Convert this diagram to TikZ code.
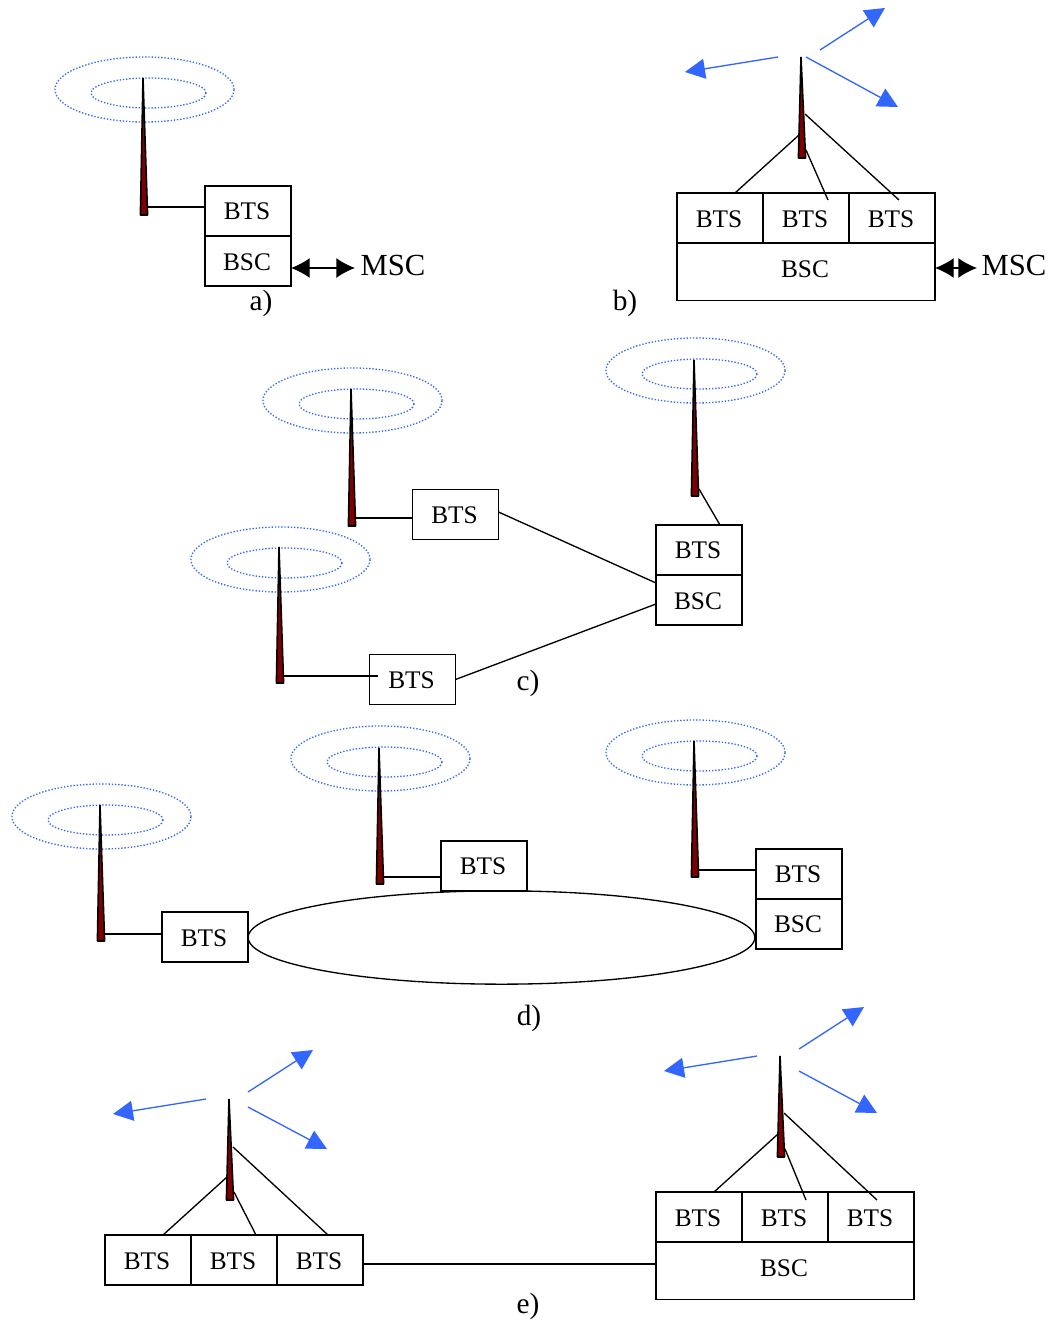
\documentclass[tikz,border=0pt]{standalone}
\usepackage{fontspec}
\setmainfont{Liberation Serif}
\usepackage{xcolor}
\usepackage{tikz}
\usetikzlibrary{arrows.meta, calc, shapes.geometric}
\definecolor{mymast}{RGB}{128,0,0}
\definecolor{myblue}{RGB}{51,102,255}
\tikzset{
  unitbox/.style={rectangle, draw=black, fill=white, line width=1pt, inner sep=0pt, outer sep=0pt,
    minimum width=64.5pt, minimum height=37.5pt, font=\fontsize{19}{21}\selectfont,
    execute at end node=\kern1.5pt},
  lowtext/.style={text height=14pt},
  widebox/.style={unitbox, minimum width=193.5pt, minimum height=43pt, text depth=3.8pt},
  caption/.style={font=\fontsize{22}{24}\selectfont, inner sep=0pt},
  msclabel/.style={font=\fontsize{23}{25}\selectfont, inner sep=0pt},
  link/.style={line width=1pt, color=black},
  mscarrow/.style={line width=1pt, {Latex[length=14pt,width=15pt]}-{Latex[length=14pt,width=15pt]}},
  ringline/.style={color=myblue, line width=1pt, dash pattern=on 1pt off 1.4pt},
  beam/.style={color=myblue, line width=1pt, -{Triangle[length=15pt,width=15pt]}},
  pics/mast/.style={code={
    \draw[fill=mymast, line width=1.2pt, line join=bevel] (0,0) -- (4.6,#1) -- (-2.6,#1) -- cycle;
  }},
  pics/rings/.style={code={
    \draw[ringline] (1.5,11.5) ellipse (89.5 and 32.5);
    \draw[ringline] (5.5,15) ellipse (57.5 and 15);
  }},
  pics/beams/.style={code={
    \draw[beam] (-23,0) -- (-116,15);
    \draw[beam] (19,-7) -- (84,-49);
    \draw[beam] #1;
  }}
}
\begin{document}
\begin{tikzpicture}[x=0.75pt, y=-0.75pt]
  \useasboundingbox (0,0) rectangle (1051,1321);

  % a)
  \pic at (143,78) {rings};
  \pic at (143,78) {mast=137};
  \node[unitbox] (btsa) at (248,211) {BTS};
  \node[unitbox, lowtext] (bsca) at (248,261) {BSC};
  \node[msclabel] (msca) at (393,265) {MSC};
  \node[caption] (capa) at (261,303) {a)};
  \coordinate (tapa) at (148,207);
  \coordinate (msctipa) at (355,268);
  \draw[link] (tapa) -- (tapa -| btsa.west);
  \draw[mscarrow] (msctipa -| bsca.east) -- (msctipa);

  % b)
  \pic at (801,57) {beams={(5,0) -- (97,50)}};
  \pic at (801,57) {mast=101};
  \node[unitbox, lowtext] (btsba) at (720,218) {BTS};
  \node[unitbox, lowtext] (btsbb) at (806,218) {BTS};
  \node[unitbox, lowtext] (btsbc) at (892,218) {BTS};
  \node[widebox] (bscb) at (806,271.5) {BSC};
  \node[msclabel] (mscb) at (1014,265) {MSC};
  \node[caption] (capb) at (625,303) {b)};
  \coordinate (tapbl) at (799,135);
  \coordinate (tapbm) at (806,150);
  \coordinate (tapbr) at (805,114);
  \coordinate (endbl) at (735,193);
  \coordinate (endbm) at (828,200);
  \coordinate (endbr) at (899,200);
  \coordinate (msctipb) at (977,268);
  \draw[link] (tapbl) -- (endbl);
  \draw[link] (tapbm) -- (endbm);
  \draw[link] (tapbr) -- (endbr);
  \draw[mscarrow] (msctipb -| bscb.east) -- (msctipb);

  % c)
  \pic at (351,389) {rings};
  \pic at (351,389) {mast=137};
  \pic at (279,548) {rings};
  \pic at (279,547) {mast=136};
  \pic at (694,359) {rings};
  \pic at (694,360) {mast=136};
  \node[unitbox, lowtext] (btsca) at (455.5,514.5) {BTS};
  \node[unitbox, lowtext] (btscb) at (412.5,679.5) {BTS};
  \node[unitbox] (btscc) at (699,550) {BTS};
  \node[unitbox, lowtext] (bscc) at (699,600) {BSC};
  \node[caption] (capc) at (528,683) {c)};
  \coordinate (tapca) at (355,518);
  \coordinate (tapcb) at (284,676);
  \coordinate (tapcc) at (699,489);
  \coordinate (endcb) at (378,676);
  \coordinate (endcc) at (720,525);
  \coordinate (joinca) at (656,583);
  \coordinate (joincb) at (656,604);
  \draw[link] (tapca) -- (tapca -| btsca.west);
  \draw[link] (tapcb) -- (endcb);
  \draw[link] (tapcc) -- (endcc);
  \draw[link] (btsca.east |- 0,512) -- (joinca);
  \draw[link] (btscb.east) -- (joincb);

  % d)
  \node[ellipse, draw=black, line width=1pt, inner sep=0pt, outer sep=0pt,
    minimum width=380pt, minimum height=70pt] (ringd) at (501.5,937.5) {};
  \pic at (100,805) {rings};
  \pic at (100,805) {mast=136};
  \pic at (379,747) {rings};
  \pic at (379,748) {mast=136};
  \pic at (694,741) {rings};
  \pic at (694,741) {mast=136};
  \node[unitbox, lowtext] (btsda) at (205,937) {BTS};
  \node[unitbox] (btsdb) at (484,866) {BTS};
  \node[unitbox] (btsdc) at (799,874) {BTS};
  \node[unitbox] (bscd) at (799,924) {BSC};
  \node[caption] (capd) at (529,1018) {d)};
  \coordinate (tapda) at (105,934);
  \coordinate (tapdb) at (384,877);
  \coordinate (tapdc) at (699,870);
  \draw[link] (tapda) -- (tapda -| btsda.west);
  \draw[link] (tapdb) -- (tapdb -| btsdb.west);
  \draw[link] (tapdc) -- (tapdc -| btsdc.west);

  % e)
  \pic at (229,1099) {beams={(19,8) -- (98,50)}};
  \pic at (229,1099) {mast=101};
  \pic at (780,1056) {beams={(19,15) -- (97,57)}};
  \pic at (780,1056) {mast=101};
  \node[unitbox, lowtext] (btsea) at (148,1260) {BTS};
  \node[unitbox, lowtext] (btseb) at (234,1260) {BTS};
  \node[unitbox, lowtext] (btsec) at (320,1260) {BTS};
  \node[unitbox, lowtext] (btsed) at (699,1217) {BTS};
  \node[unitbox, lowtext] (btsee) at (785,1217) {BTS};
  \node[unitbox, lowtext] (btsef) at (871,1217) {BTS};
  \node[widebox] (bsce) at (785,1271) {BSC};
  \node[caption] (cape) at (528,1306) {e)};
  \coordinate (tapel) at (227,1177);
  \coordinate (tapem) at (234,1192);
  \coordinate (tapet) at (233,1147);
  \coordinate (endel) at (163,1235);
  \coordinate (endem) at (256,1235);
  \coordinate (endet) at (328,1235);
  \coordinate (tapfl) at (778,1134);
  \coordinate (tapfm) at (785,1149);
  \coordinate (tapfr) at (784,1113);
  \coordinate (endfl) at (714,1192);
  \coordinate (endfm) at (806,1200);
  \coordinate (endfr) at (877,1200);
  \draw[link] (tapel) -- (endel);
  \draw[link] (tapem) -- (endem);
  \draw[link] (tapet) -- (endet);
  \draw[link] (tapfl) -- (endfl);
  \draw[link] (tapfm) -- (endfm);
  \draw[link] (tapfr) -- (endfr);
  \draw[link] (btsec.east |- 0,1264) -- (bsce.west |- 0,1264);
\end{tikzpicture}
\end{document}
